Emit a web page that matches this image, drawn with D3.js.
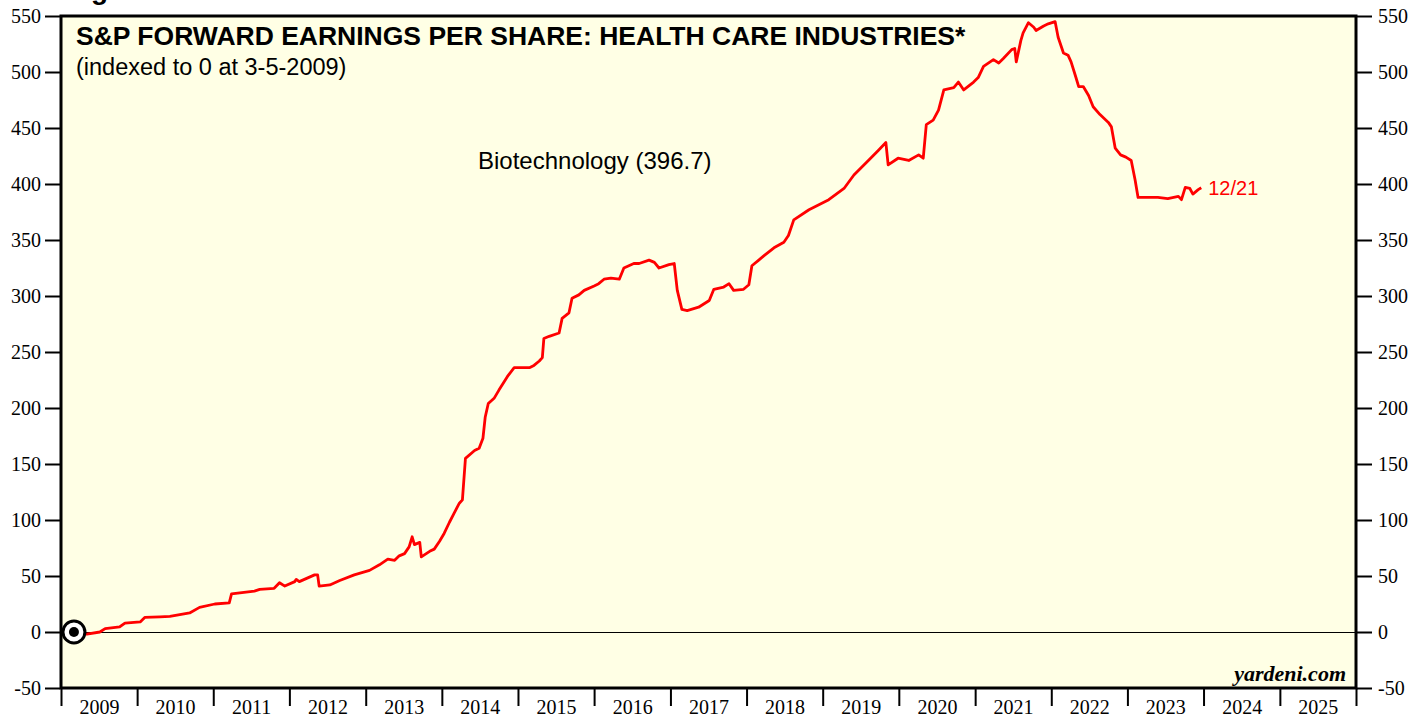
<!DOCTYPE html>
<html>
<head>
    <meta charset="utf-8">
    <title>S&P Forward Earnings: Biotechnology</title>
    <script src="https://d3js.org/d3.v7.js"></script>
    <style>
        body { margin: 0; background: #fff; }
        svg text { fill: #000; }
        .tick text { font-family: "Liberation Serif", "Times New Roman", serif; font-size: 20px; }
        .tick line { stroke: #000; stroke-width: 2; }
    </style>
</head>
<body>
    <svg id="chart"></svg>
    <script>
        // Data: decimal year, index value (0 at 3-5-2009)
        var years = [
            2009.17, 2009.34, 2009.51, 2009.58, 2009.77, 2009.84, 2010.04, 2010.10, 2010.30, 2010.43,
            2010.69, 2010.82, 2011.02, 2011.21, 2011.24, 2011.54, 2011.61, 2011.80, 2011.87, 2011.94,
            2012.07, 2012.09, 2012.13, 2012.33, 2012.37, 2012.39, 2012.53, 2012.66, 2012.85, 2013.05,
            2013.18, 2013.29, 2013.38, 2013.44, 2013.51, 2013.57, 2013.61, 2013.64, 2013.71, 2013.73,
            2013.84, 2013.90, 2013.97, 2014.03, 2014.10, 2014.16, 2014.23, 2014.27, 2014.31, 2014.43,
            2014.49, 2014.54, 2014.57, 2014.61, 2014.69, 2014.75, 2014.86, 2014.95, 2015.02, 2015.15,
            2015.21, 2015.28, 2015.32, 2015.34, 2015.41, 2015.54, 2015.58, 2015.67, 2015.71, 2015.80,
            2015.87, 2016.00, 2016.06, 2016.13, 2016.22, 2016.33, 2016.39, 2016.52, 2016.59, 2016.72,
            2016.79, 2016.85, 2016.98, 2017.05, 2017.09, 2017.15, 2017.22, 2017.37, 2017.51, 2017.57,
            2017.70, 2017.77, 2017.83, 2017.96, 2018.03, 2018.07, 2018.16, 2018.23, 2018.36, 2018.49,
            2018.55, 2018.62, 2018.82, 2019.08, 2019.28, 2019.41, 2019.60, 2019.73, 2019.83, 2019.86,
            2019.99, 2020.13, 2020.26, 2020.32, 2020.36, 2020.45, 2020.52, 2020.59, 2020.72, 2020.78,
            2020.85, 2020.98, 2021.04, 2021.11, 2021.24, 2021.31, 2021.37, 2021.48, 2021.52, 2021.54,
            2021.60, 2021.63, 2021.70, 2021.77, 2021.80, 2021.90, 2021.96, 2022.05, 2022.09, 2022.16,
            2022.22, 2022.26, 2022.32, 2022.36, 2022.42, 2022.49, 2022.55, 2022.64, 2022.75, 2022.79,
            2022.84, 2022.91, 2022.98, 2023.05, 2023.10, 2023.14, 2023.27, 2023.40, 2023.53, 2023.67,
            2023.71, 2023.76, 2023.82, 2023.86, 2023.93, 2023.97
        ];
        var biotech = [
            0, -2, 0, 3, 4.5, 8, 9, 13, 13.5, 14,
            17, 22, 25, 26, 34, 36.5, 38, 39, 44, 41,
            45, 47, 45, 51, 51, 41, 42, 46, 51, 55,
            60, 65, 64, 68, 70, 76, 85, 78, 80, 67,
            72, 74, 81, 88, 98, 106, 115, 118, 155, 162,
            164, 173, 192, 204, 209, 216, 228, 236, 236, 236,
            238, 242, 245, 262, 264, 267, 280, 285, 298, 301,
            305, 309, 311, 315, 316, 315, 325, 329, 329, 332,
            330, 325, 328, 329, 305, 288, 287, 290, 296, 306,
            308, 311, 305, 306, 310, 327, 332, 336, 343, 348,
            354, 368, 377, 386, 396, 408, 421, 430, 437, 417,
            423, 421, 426, 423, 453, 457, 466, 484, 486, 491,
            484, 491, 495, 505, 511, 508, 512, 520, 521, 509,
            528, 535, 544, 540, 537, 541, 543, 545, 531, 517,
            515, 509, 496, 487, 487, 479, 469, 462, 455, 451,
            432, 426, 424, 421, 404, 388, 388, 388, 387, 389,
            386, 397, 396, 391, 395, 396.7
        ];
        var yTicks = [-50, 0, 50, 100, 150, 200, 250, 300, 350, 400, 450, 500, 550];
        var yearLabels = [2009, 2010, 2011, 2012, 2013, 2014, 2015, 2016, 2017, 2018, 2019, 2020, 2021, 2022, 2023, 2024, 2025];

        function toDate(t) {
            var yy = Math.floor(t);
            var start = new Date(yy, 0, 1), end = new Date(yy + 1, 0, 1);
            return new Date(+start + (t - yy) * (end - start));
        }

        var data = years.map(function (t, i) { return { date: toDate(t), value: biotech[i] }; });

        // Graph dimensions
        var width = 1425, height = 717;
        var plotLeft = 61, plotRight = 1356, plotTop = 16, plotBottom = 688;

        var svg = d3.select("#chart").attr("width", width).attr("height", height);

        var x = d3.scaleTime()
            .domain([new Date(2009, 0, 1), new Date(2026, 0, 1)])
            .range([plotLeft, plotRight]);
        var y = d3.scaleLinear().domain([-50, 550]).range([plotBottom, plotTop]);

        // Figure label cut off at top
        svg.append("text").attr("x", 66).attr("y", -1)
            .style("font", "bold 28px 'Liberation Sans', Arial, sans-serif")
            .text("Figure");

        // Plot background
        svg.append("rect")
            .attr("x", plotLeft).attr("y", plotTop)
            .attr("width", plotRight - plotLeft).attr("height", plotBottom - plotTop)
            .attr("fill", "#FFFFE5");

        // zero line
        svg.append("line")
            .attr("x1", plotLeft).attr("x2", plotRight)
            .attr("y1", y(0) + 0.5).attr("y2", y(0) + 0.5)
            .attr("stroke", "#000").attr("stroke-width", 1);

        // Y axes
        var fmt = function (d) { return String(d); };
        var yl = svg.append("g").attr("transform", "translate(" + (plotLeft - 1) + ",0)")
            .call(d3.axisLeft(y).tickValues(yTicks).tickSize(15).tickPadding(4).tickFormat(fmt));
        yl.select(".domain").remove();
        var yr = svg.append("g").attr("transform", "translate(" + (plotRight + 1) + ",0)")
            .call(d3.axisRight(y).tickValues(yTicks).tickSize(15).tickPadding(6).tickFormat(fmt));
        yr.select(".domain").remove();

        // X axis: ticks at year starts, labels mid-year
        var xt = svg.append("g").attr("transform", "translate(0," + plotBottom + ")")
            .call(d3.axisBottom(x)
                .tickValues(d3.range(2009, 2027).map(function (k) { return new Date(k, 0, 1); }))
                .tickSize(18).tickFormat(""));
        xt.select(".domain").remove();
        var xl = svg.append("g").attr("transform", "translate(0," + plotBottom + ")")
            .call(d3.axisBottom(x)
                .tickValues(yearLabels.map(function (k) { return new Date(k, 6, 2); }))
                .tickSize(0).tickPadding(12).tickFormat(d3.timeFormat("%Y")));
        xl.select(".domain").remove();

        // Line
        var line = d3.line()
            .x(function (d) { return x(d.date); })
            .y(function (d) { return y(d.value); });
        svg.append("path")
            .datum(data)
            .attr("fill", "none")
            .attr("stroke", "#FF0000")
            .attr("stroke-width", 2.8)
            .attr("stroke-linejoin", "round")
            .attr("d", line);

        // Frame
        svg.append("rect")
            .attr("x", plotLeft).attr("y", plotTop)
            .attr("width", plotRight - plotLeft).attr("height", plotBottom - plotTop)
            .attr("fill", "none").attr("stroke", "#000").attr("stroke-width", 3);

        // Start marker
        var first = data[0];
        svg.append("circle").attr("cx", x(first.date)).attr("cy", y(first.value))
            .attr("r", 11).attr("fill", "#fff").attr("stroke", "#000").attr("stroke-width", 3);
        svg.append("circle").attr("cx", x(first.date)).attr("cy", y(first.value))
            .attr("r", 5).attr("fill", "#000");

        // End label
        var last = data[data.length - 1];
        svg.append("text")
            .attr("x", x(last.date) + 7).attr("y", y(last.value) + 7)
            .style("font", "20px 'Liberation Sans', Arial, sans-serif")
            .style("fill", "#FF0000")
            .text("12/21");

        // Titles
        svg.append("text").attr("x", 76).attr("y", 45)
            .style("font", "bold 26.5px 'Liberation Sans', Arial, sans-serif")
            .text("S&P FORWARD EARNINGS PER SHARE: HEALTH CARE INDUSTRIES*");
        svg.append("text").attr("x", 76).attr("y", 75)
            .style("font", "23.5px 'Liberation Sans', Arial, sans-serif")
            .text("(indexed to 0 at 3-5-2009)");
        svg.append("text").attr("x", 478).attr("y", 169)
            .style("font", "24px 'Liberation Sans', Arial, sans-serif")
            .text("Biotechnology (396.7)");

        svg.append("text").attr("x", 1346).attr("y", 681)
            .attr("text-anchor", "end")
            .style("font", "italic bold 22px 'Liberation Serif', 'Times New Roman', serif")
            .text("yardeni.com");
    </script>
</body>
</html>
